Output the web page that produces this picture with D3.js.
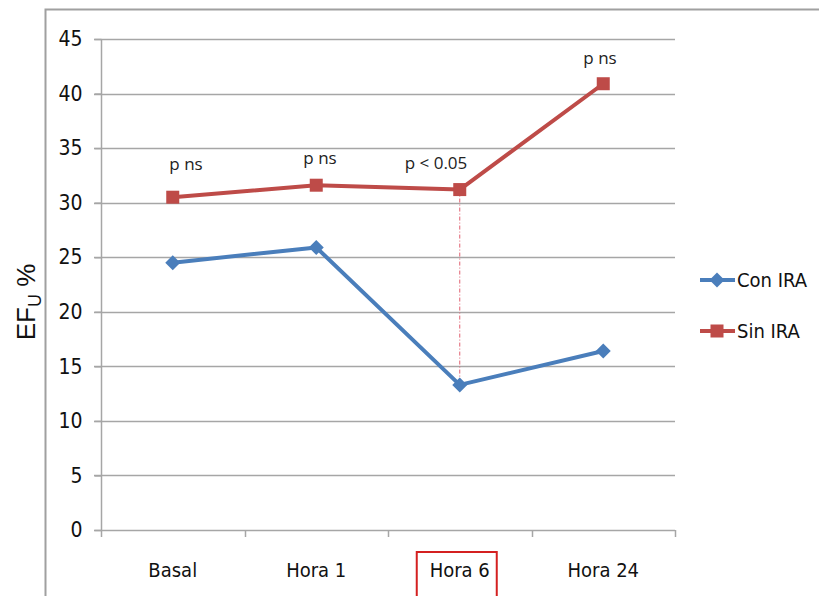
<!DOCTYPE html>
<html><head><meta charset="utf-8">
<script src="https://cdn.jsdelivr.net/npm/d3@7"></script>
<style>body{margin:0;background:#fff}svg{display:block}</style>
</head><body>
<script>
const categories = ["Basal", "Hora 1", "Hora 6", "Hora 24"];
const conIRA = [24.5, 25.9, 13.3, 16.4];
const sinIRA = [30.5, 31.6, 31.2, 40.9];
const yTicks = [0, 5, 10, 15, 20, 25, 30, 35, 40, 45];
const pLabels = ["p ns", "p ns", "p < 0.05", "p ns"];
const seriesNames = ["Con IRA", "Sin IRA"];

const W = 819, H = 596;
const svg = d3.select("body").append("svg").attr("width", W).attr("height", H);
const condensed = "'Liberation Sans Narrow','DejaVu Sans Condensed','Open Sans',sans-serif";
const blue = "#4a7ebb", red = "#be4b48", grid = "#a6a6a6";

// outer frame
svg.append("path").attr("d", `M45.5,${H+5} V9.5 H${W+5}`).attr("fill","none").attr("stroke","#a0a0a0").attr("stroke-width",2);

const x = d3.scaleBand().domain(categories).range([101, 675]);
const y = d3.scaleLinear().domain([0, 45]).range([530, 39]);
const cx = d => x(d) + x.bandwidth()/2;

// gridlines
svg.append("g").selectAll("line").data(yTicks.filter(t=>t>0)).join("line")
  .attr("x1", 94).attr("x2", 675).attr("y1", d=>Math.round(y(d))+0.5).attr("y2", d=>Math.round(y(d))+0.5)
  .attr("stroke", grid).attr("stroke-width", 1.5);

// y axis
const ya = svg.append("g").attr("transform","translate(101.5,0)")
  .call(d3.axisLeft(y).tickValues(yTicks).tickSize(7).tickPadding(12));
ya.select(".domain").attr("stroke", grid).attr("stroke-width",1.5).attr("d","M0,39V530");
ya.selectAll(".tick line").attr("stroke", grid).attr("stroke-width",1.5);
ya.selectAll("text").attr("font-family", condensed).attr("font-size", 21).attr("fill","#111");

// x axis
const xa = svg.append("g").attr("transform","translate(0,530.5)")
  .call(d3.axisBottom(x).tickSize(0).tickPadding(32));
xa.select(".domain").attr("stroke", grid).attr("stroke-width",1.5).attr("d","M94,0H675");
xa.selectAll("text").attr("font-family", condensed).attr("font-size", 20).attr("fill","#111");
svg.append("g").selectAll("line").data([...categories.map(c=>x(c)), 675]).join("line")
  .attr("x1", d=>Math.round(d)+0.5).attr("x2", d=>Math.round(d)+0.5).attr("y1",530).attr("y2",537)
  .attr("stroke", grid).attr("stroke-width",1.5);

// red box around Hora 6
svg.append("rect").attr("x", cx("Hora 6")-43).attr("y", 552).attr("width", 80).attr("height", 60)
  .attr("fill","none").attr("stroke","#d42020").attr("stroke-width",2);

// dashed drop line at Hora 6
svg.append("line").attr("x1", cx("Hora 6")).attr("x2", cx("Hora 6"))
  .attr("y1", y(sinIRA[2])).attr("y2", y(conIRA[2]))
  .attr("stroke", "#e06070").attr("stroke-width", 1).attr("stroke-dasharray","4,2,1,2");

const line = d3.line().x((d,i)=>cx(categories[i])).y(d=>y(d));
svg.append("path").datum(conIRA).attr("d", line).attr("fill","none").attr("stroke", blue).attr("stroke-width",4).attr("stroke-linejoin","round");
svg.append("path").datum(sinIRA).attr("d", line).attr("fill","none").attr("stroke", red).attr("stroke-width",4).attr("stroke-linejoin","round");

const diamond = "M0,-7.5L7.5,0L0,7.5L-7.5,0Z";
svg.append("g").selectAll("path").data(conIRA).join("path")
  .attr("d", diamond).attr("transform",(d,i)=>`translate(${cx(categories[i])},${y(d)})`).attr("fill", blue);
svg.append("g").selectAll("rect").data(sinIRA).join("rect")
  .attr("x",(d,i)=>cx(categories[i])-6.5).attr("y", d=>y(d)-6.5).attr("width",13).attr("height",13).attr("fill", red);

// p annotations
const pPos = [[186,170],[320,164],[436,169],[600,64]];
svg.append("g").selectAll("text").data(pLabels).join("text")
  .attr("x",(d,i)=>pPos[i][0]).attr("y",(d,i)=>pPos[i][1]).attr("text-anchor","middle")
  .attr("font-family","'Open Sans',sans-serif").attr("font-size",17).attr("fill","#222").text(d=>d);

// y label
const yl = svg.append("text").attr("transform","translate(35,302) rotate(-90)").attr("text-anchor","middle")
  .attr("font-family","'Liberation Sans',sans-serif").attr("font-size",26).attr("fill","#111");
yl.append("tspan").text("EF");
yl.append("tspan").attr("font-size",18).attr("dy",6).text("U");
yl.append("tspan").attr("dy",-6).text(" %");

// legend
const lg = svg.append("g");
const lrows = [[280, blue, "d"], [331, red, "s"]];
lrows.forEach((r,i)=>{
  lg.append("line").attr("x1",700).attr("x2",735).attr("y1",r[0]).attr("y2",r[0]).attr("stroke",r[1]).attr("stroke-width",4);
  if (r[2]==="d") lg.append("path").attr("d",diamond).attr("transform",`translate(717,${r[0]})`).attr("fill",r[1]);
  else lg.append("rect").attr("x",710.5).attr("y",r[0]-6.5).attr("width",13).attr("height",13).attr("fill",r[1]);
  lg.append("text").attr("x",737).attr("y",r[0]+7).attr("font-family",condensed).attr("font-size",20).attr("fill","#111").text(seriesNames[i]);
});
</script>
</body></html>
